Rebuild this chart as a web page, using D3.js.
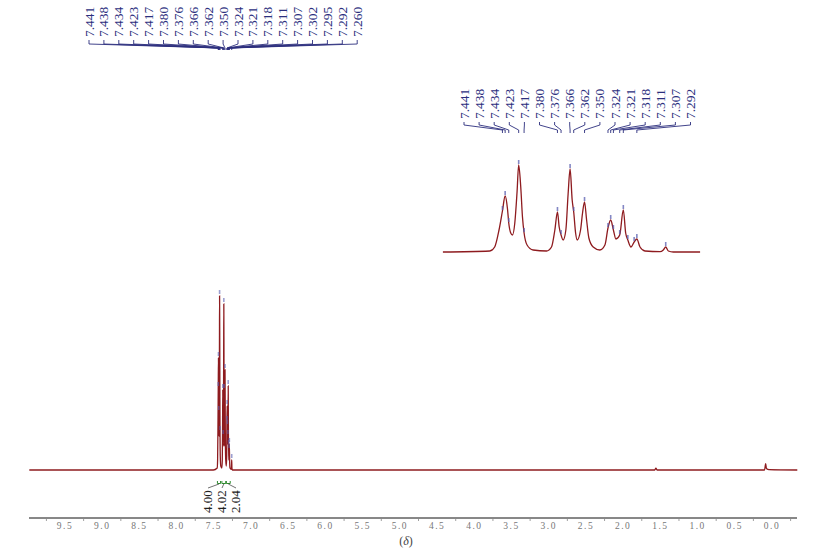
<!DOCTYPE html>
<html>
<head>
<meta charset="utf-8">
<script src="https://cdn.jsdelivr.net/npm/d3@7"></script>
<style>
  html, body { margin: 0; padding: 0; background: #fff; }
  svg { display: block; }
</style>
</head>
<body>
<svg id="chart" width="837" height="549"></svg>
<script>
// ---------------- DATA ----------------
// aromatic cluster of the 1H spectrum, [ppm, intensity]
const clusterPoints = [
  [7.507, 0], [7.455, 1], [7.4496, 5], [7.4448, 22], [7.441, 41], [7.438, 56],
  [7.4354, 43], [7.434, 29], [7.4318, 19], [7.4299, 17], [7.4273, 29], [7.4248, 60],
  [7.423, 87], [7.4207, 65], [7.4188, 35], [7.417, 19], [7.4137, 7], [7.407, 2],
  [7.3921, 1], [7.3866, 5], [7.3829, 22], [7.380, 40], [7.3781, 25], [7.376, 17],
  [7.3737, 12], [7.3707, 22], [7.3682, 58], [7.366, 83], [7.3637, 52], [7.362, 40],
  [7.3599, 19], [7.3582, 12], [7.3544, 22], [7.3522, 39], [7.350, 50], [7.3477, 32],
  [7.3452, 14], [7.3404, 5], [7.333, 2], [7.3274, 7], [7.324, 24], [7.321, 32],
  [7.318, 22], [7.3152, 13], [7.311, 17], [7.307, 42], [7.3044, 19], [7.302, 12],
  [7.2985, 5], [7.295, 10], [7.292, 13], [7.2885, 5], [7.283, 1], [7.2663, 0.3],
  [7.2627, 2], [7.260, 5], [7.2571, 1], [7.2516, 0], [7.2219, 0]
];
// small peaks elsewhere in the full spectrum (water, TMS)
const otherPoints = [
  [9.98, 0], [1.575, 0], [1.56, 0.9], [1.545, 0],
  [0.10, 0], [0.085, 3.2], [0.075, 0.8], [0.04, 0.2], [-0.34, 0]
];
// picked peaks (ppm) and their heights
const peakPpm    = [7.441, 7.438, 7.434, 7.423, 7.417, 7.380, 7.376, 7.366, 7.362, 7.350,
                    7.324, 7.321, 7.318, 7.311, 7.307, 7.302, 7.295, 7.292, 7.260];
const peakHeight = [41, 56, 29, 87, 19, 40, 17, 83, 40, 50,
                    24, 32, 22, 17, 42, 12, 10, 13, 5];
// labels shown above the inset
const insetLabels = [7.441, 7.438, 7.434, 7.423, 7.417, 7.380, 7.376, 7.366, 7.362, 7.350,
                     7.324, 7.321, 7.318, 7.311, 7.307, 7.292];
// integrals
const integralFrom  = [7.452, 7.392, 7.332];
const integralTo    = [7.410, 7.340, 7.280];
const integralValue = ["4.00", "4.02", "2.04"];
// axis
const tickLabels = [9.5, 9.0, 8.5, 8.0, 7.5, 7.0, 6.5, 6.0, 5.5, 5.0, 4.5, 4.0, 3.5, 3.0, 2.5, 2.0, 1.5, 1.0, 0.5, 0.0];
const axisSymbol = "δ";

// ---------------- DRAW ----------------
const svg = d3.select("#chart");
const specColor = "#8e1b1f";
const labelColor = "#2c2f7e";
const markColor = "#5a5fb0";

const x = d3.scaleLinear().domain([9.984, -0.336]).range([29, 797]);
const y = d3.scaleLinear().domain([0, 87]).range([470, 296]);

const xi = d3.scaleLinear().domain([7.508, 7.222]).range([442, 700]);
const yi = d3.scaleLinear().domain([0, 87]).range([252, 165]);

const mainPoints = [otherPoints[0], ...clusterPoints, ...otherPoints.slice(1)]
  .sort((a, b) => b[0] - a[0]);

// axis
const axisY = 518;
svg.append("line").attr("x1", x.range()[0]).attr("x2", x.range()[1])
  .attr("y1", axisY).attr("y2", axisY).attr("stroke", "#111").attr("stroke-width", 1);
const tickPos = d3.range(-0.25, 10, 0.5);
svg.append("g").selectAll("line").data(tickPos).join("line")
  .attr("x1", d => x(d)).attr("x2", d => x(d))
  .attr("y1", axisY).attr("y2", axisY + 3)
  .attr("stroke", "#888").attr("stroke-width", 0.8);
svg.append("g").selectAll("text").data(tickLabels).join("text")
  .attr("x", d => x(d)).attr("y", 529)
  .attr("text-anchor", "middle")
  .attr("font-family", "Liberation Serif, serif").attr("font-size", 9.5)
  .attr("letter-spacing", "1.5px")
  .attr("fill", "#777")
  .text(d => d.toFixed(1));
const title = svg.append("text").attr("x", 406).attr("y", 545).attr("text-anchor", "middle")
  .attr("font-family", "Liberation Serif, serif").attr("font-size", 12)
  .attr("fill", "#444");
title.append("tspan").text("(");
title.append("tspan").attr("font-style", "italic").text(axisSymbol);
title.append("tspan").text(")");

// main spectrum
const lineMain = d3.line().x(d => x(d[0])).y(d => y(d[1])).curve(d3.curveMonotoneX);
svg.append("path").datum(mainPoints).attr("d", lineMain)
  .attr("fill", "none").attr("stroke", specColor).attr("stroke-width", 1.3);

// main peak markers
svg.append("g").selectAll("rect").data(peakPpm).join("rect")
  .attr("x", d => x(d) - 0.8).attr("width", 1.6)
  .attr("y", (d, i) => y(peakHeight[i]) - 6).attr("height", 4)
  .attr("fill", markColor).attr("opacity", 0.6);

// top labels (all peaks)
const topX0 = 89, topDx = 14.9;
const gTop = svg.append("g");
peakPpm.forEach((p, i) => {
  const lx = topX0 + i * topDx;
  gTop.append("text")
    .attr("transform", `translate(${lx + 4.5},37) rotate(-90)`)
    .attr("font-family", "Liberation Serif, serif").attr("font-size", 13.5)
    .attr("fill", labelColor).text(p.toFixed(3));
  gTop.append("path")
    .attr("d", `M${lx},40 V44 L${x(p)},48 V50`)
    .attr("fill", "none").attr("stroke", labelColor).attr("stroke-width", 0.9);
});

// inset spectrum
const lineInset = d3.line().x(d => xi(d[0])).y(d => yi(d[1])).curve(d3.curveMonotoneX);
svg.append("path").datum(clusterPoints).attr("d", lineInset)
  .attr("fill", "none").attr("stroke", specColor).attr("stroke-width", 1.3);
svg.append("g").selectAll("rect").data(peakPpm).join("rect")
  .attr("x", d => xi(d) - 0.8).attr("width", 1.6)
  .attr("y", (d, i) => yi(peakHeight[i]) - 5).attr("height", 4)
  .attr("fill", markColor).attr("opacity", 0.75);

// inset labels
const insX0 = 464, insDx = 15.1;
const gIns = svg.append("g");
insetLabels.forEach((p, i) => {
  const lx = insX0 + i * insDx;
  gIns.append("text")
    .attr("transform", `translate(${lx + 4.5},119) rotate(-90)`)
    .attr("font-family", "Liberation Serif, serif").attr("font-size", 13.5)
    .attr("fill", labelColor).text(p.toFixed(3));
  gIns.append("path")
    .attr("d", `M${lx},122 V125 L${xi(p)},130 V133`)
    .attr("fill", "none").attr("stroke", labelColor).attr("stroke-width", 0.9);
});

// integrals
const integralColor = "#2e8b2e";
const gInt = svg.append("g");
const intLabelX = [207, 221, 235];
integralValue.forEach((v, i) => {
  const xa = x(integralFrom[i]), xb = x(integralTo[i]);
  gInt.append("path")
    .attr("d", `M${xa},481 V483.5 H${xb} V481`)
    .attr("fill", "none").attr("stroke", integralColor).attr("stroke-width", 1);
  gInt.append("path")
    .attr("d", `M${(xa + xb) / 2},484 L${intLabelX[i] + 1},488`)
    .attr("fill", "none").attr("stroke", "#333").attr("stroke-width", 0.7);
  gInt.append("text")
    .attr("transform", `translate(${intLabelX[i] + 4.5},513) rotate(-90)`)
    .attr("font-family", "Liberation Serif, serif").attr("font-size", 13)
    .attr("fill", "#222").text(v);
});
</script>
</body>
</html>
